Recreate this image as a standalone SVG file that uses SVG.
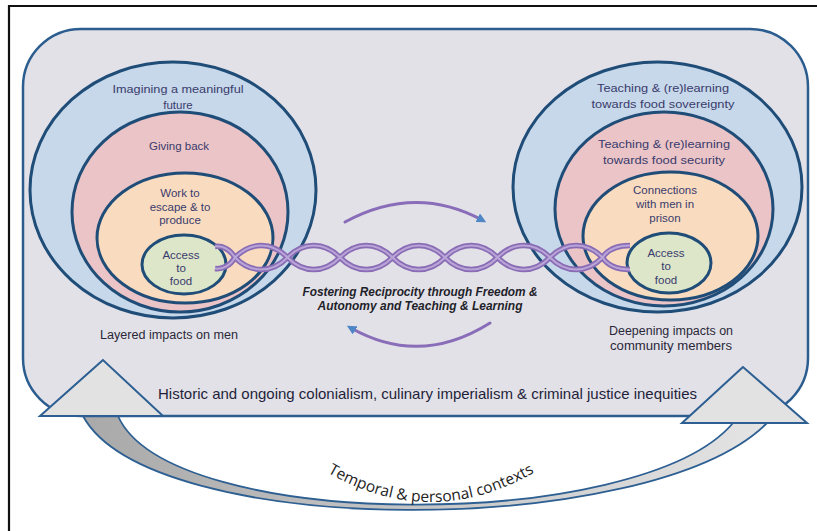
<svg xmlns="http://www.w3.org/2000/svg" width="817" height="531" viewBox="0 0 817 531">
<defs>
<style>
.t{font-family:"Liberation Sans",Arial,sans-serif;font-size:11.5px;fill:#3a3b6c;text-anchor:middle}
.lab{font-family:"Liberation Sans",Arial,sans-serif;font-size:12px;fill:#2a2838;text-anchor:middle}
.fos{font-family:"Liberation Sans",Arial,sans-serif;font-size:12px;font-weight:bold;font-style:italic;fill:#1f1f2a;text-anchor:middle}
.ring{stroke:#1f4d78;stroke-width:3}
.blue{fill:#c6d8ea}.pink{fill:#eac4c7}.peach{fill:#f9dcc0}.green{fill:#dde6c9}
.tri{fill:#e2e2e2;stroke:#2d5f92;stroke-width:2}
.arc{fill:none;stroke:#8a6db8;stroke-width:3;stroke-linecap:round}
.strandO{fill:none;stroke:#8a6cb5;stroke-width:5.5}
.strandI{fill:none;stroke:#b9a5d8;stroke-width:2}
</style>
<linearGradient id="bandG" x1="0" y1="0" x2="1" y2="0">
<stop offset="0" stop-color="#a9a9a9"/>
<stop offset="1" stop-color="#e4e4e4"/>
</linearGradient>
<marker id="ah" viewBox="0 0 10 10" refX="5" refY="5" markerWidth="3.2" markerHeight="3.2" orient="auto" markerUnits="strokeWidth">
<path d="M0 0 L10 5 L0 10 z" fill="#4f86c6"/>
</marker>
<path id="tp" d="M 320 468 Q 430 536 542 468"/>
</defs>
<rect width="817" height="531" fill="#ffffff"/>
<path d="M9 531 V6 H817" fill="none" stroke="#111" stroke-width="2.2"/>

<g id="band">
<path d="M 83 416 C 150 540 650 540 767 423 L 733 423 C 640 533 170 533 118 416 Z" fill="url(#bandG)" stroke="#2d5f92" stroke-width="1.8"/>
</g>

<g id="frame">
<rect x="23" y="29" width="785" height="387" rx="58" ry="58" fill="#e2e1e8" stroke="#2c5d8f" stroke-width="2.5"/>
</g>

<g id="left-rings">
<ellipse class="ring blue" cx="173" cy="190" rx="143" ry="128"/>
<ellipse class="ring pink" cx="180" cy="212" rx="108" ry="100"/>
<ellipse class="ring peach" cx="185" cy="238" rx="88" ry="65"/>
<ellipse class="ring green" cx="184" cy="264.5" rx="42" ry="29.5"/>
</g>
<g id="left-text">
<text class="t" x="178" y="93" textLength="131" lengthAdjust="spacingAndGlyphs">Imagining a meaningful</text>
<text class="t" x="178" y="109">future</text>
<text class="t" x="179" y="150">Giving back</text>
<text class="t" x="180" y="197">Work to</text>
<text class="t" x="180" y="210.5">escape &amp; to</text>
<text class="t" x="180" y="224">produce</text>
<text class="t" x="181" y="258.5">Access</text>
<text class="t" x="181" y="271.5">to</text>
<text class="t" x="181" y="285">food</text>
</g>

<g id="right-rings">
<ellipse class="ring blue" cx="657.5" cy="187" rx="144.5" ry="125"/>
<ellipse class="ring pink" cx="664" cy="209" rx="109" ry="97"/>
<ellipse class="ring peach" cx="670.5" cy="236" rx="87.5" ry="64"/>
<ellipse class="ring green" cx="669" cy="263" rx="42" ry="30"/>
</g>
<g id="right-text">
<text class="t" x="663" y="92" textLength="132" lengthAdjust="spacingAndGlyphs">Teaching &amp; (re)learning</text>
<text class="t" x="663" y="108" textLength="143" lengthAdjust="spacingAndGlyphs">towards food sovereignty</text>
<text class="t" x="664" y="148" textLength="132" lengthAdjust="spacingAndGlyphs">Teaching &amp; (re)learning</text>
<text class="t" x="664" y="164" textLength="122" lengthAdjust="spacingAndGlyphs">towards food security</text>
<text class="t" x="665" y="194">Connections</text>
<text class="t" x="665" y="208">with men in</text>
<text class="t" x="665" y="222">prison</text>
<text class="t" x="666" y="256.5">Access</text>
<text class="t" x="666" y="270">to</text>
<text class="t" x="666" y="283.5">food</text>
</g>

<g id="connectors">
<g id="chain">
<path class="strandO" d="M215 246.5 C222 245.5 230 249 235 257.5 C250.75 273.5 271.75 273.5 287.5 257.5 C303.25 241.5 324.25 241.5 340 257.5 C355.75 273.5 376.75 273.5 392.5 257.5 C408.25 241.5 429.25 241.5 445 257.5 C460.75 273.5 481.75 273.5 497.5 257.5 C513.25 241.5 534.25 241.5 550 257.5 C565.75 273.5 586.75 273.5 602.5 257.5 C608 249 618 245.5 630 245.5"/>
<path class="strandO" d="M215 268.5 C222 269.5 230 266 235 257.5 C250.75 241.5 271.75 241.5 287.5 257.5 C303.25 273.5 324.25 273.5 340 257.5 C355.75 241.5 376.75 241.5 392.5 257.5 C408.25 273.5 429.25 273.5 445 257.5 C460.75 241.5 481.75 241.5 497.5 257.5 C513.25 273.5 534.25 273.5 550 257.5 C565.75 241.5 586.75 241.5 602.5 257.5 C608 266 618 269.5 630 269.5"/>
<path class="strandI" d="M215 246.5 C222 245.5 230 249 235 257.5 C250.75 273.5 271.75 273.5 287.5 257.5 C303.25 241.5 324.25 241.5 340 257.5 C355.75 273.5 376.75 273.5 392.5 257.5 C408.25 241.5 429.25 241.5 445 257.5 C460.75 273.5 481.75 273.5 497.5 257.5 C513.25 241.5 534.25 241.5 550 257.5 C565.75 273.5 586.75 273.5 602.5 257.5 C608 249 618 245.5 630 245.5"/>
<path class="strandI" d="M215 268.5 C222 269.5 230 266 235 257.5 C250.75 241.5 271.75 241.5 287.5 257.5 C303.25 273.5 324.25 273.5 340 257.5 C355.75 241.5 376.75 241.5 392.5 257.5 C408.25 273.5 429.25 273.5 445 257.5 C460.75 241.5 481.75 241.5 497.5 257.5 C513.25 273.5 534.25 273.5 550 257.5 C565.75 241.5 586.75 241.5 602.5 257.5 C608 266 618 269.5 630 269.5"/>
</g>
<path id="arc-top" class="arc" d="M345 222 Q415 184 482 220" marker-end="url(#ah)"/>
<path id="arc-bottom" class="arc" d="M490 323 Q420 367 351 328" marker-end="url(#ah)"/>
</g>

<g id="triangles">
<polygon class="tri" points="103,360 40,416 163,416"/>
<polygon class="tri" points="743,367 682,423 807,423"/>
</g>

<g id="labels">
<text class="fos" x="420" y="295.5" textLength="235" lengthAdjust="spacingAndGlyphs">Fostering Reciprocity through Freedom &amp;</text>
<text class="fos" x="420" y="309.5" textLength="205" lengthAdjust="spacingAndGlyphs">Autonomy and Teaching &amp; Learning</text>
<text class="lab" x="169" y="339" textLength="138" lengthAdjust="spacingAndGlyphs">Layered impacts on men</text>
<text class="lab" x="671" y="335" textLength="124" lengthAdjust="spacingAndGlyphs">Deepening impacts on</text>
<text class="lab" x="671" y="350" textLength="122" lengthAdjust="spacingAndGlyphs">community members</text>
<text x="158" y="399" font-family="'Liberation Sans',Arial,sans-serif" font-size="14.5" fill="#1f1f3a" textLength="539" lengthAdjust="spacingAndGlyphs">Historic and ongoing colonialism, culinary imperialism &amp; criminal justice inequities</text>
<text font-family="'Open Sans','Liberation Sans',sans-serif" font-size="15.5" fill="#222"><textPath href="#tp" startOffset="50%" text-anchor="middle">Temporal &amp; personal contexts</textPath></text>
</g>
</svg>
